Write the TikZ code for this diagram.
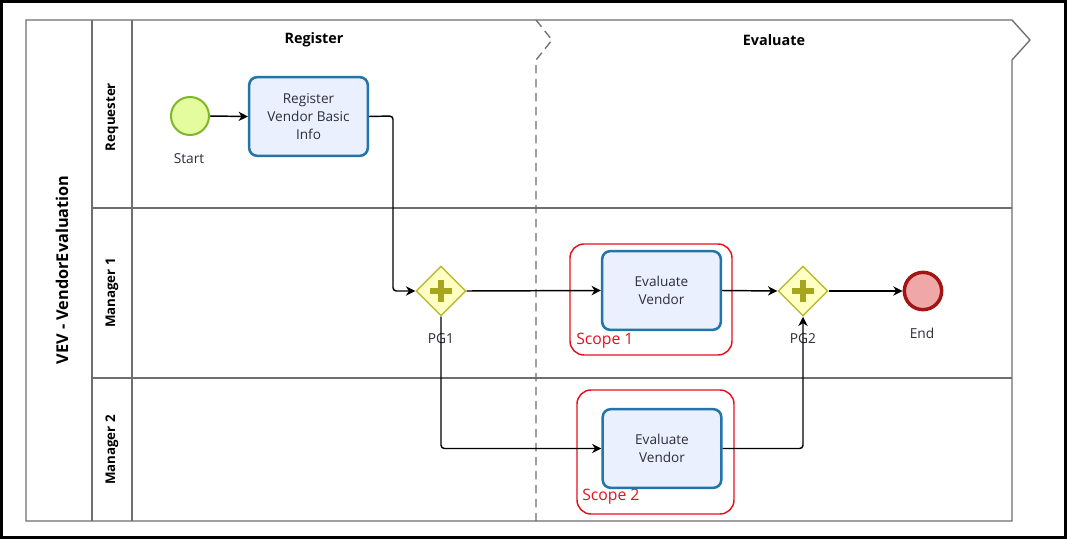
\documentclass[tikz,border=0pt]{standalone}
\usepackage{fontspec}
\setmainfont{Open Sans}
\usetikzlibrary{shapes.geometric,arrows.meta}
\definecolor{laneline}{RGB}{110,110,110}
\definecolor{startfill}{RGB}{228,252,158}
\definecolor{startdraw}{RGB}{125,184,40}
\definecolor{taskfill}{RGB}{234,240,253}
\definecolor{taskdraw}{RGB}{35,116,168}
\definecolor{gwfill}{RGB}{255,255,196}
\definecolor{gwdraw}{RGB}{186,186,48}
\definecolor{gwplus}{RGB}{165,165,32}
\definecolor{endfill}{RGB}{239,167,167}
\definecolor{enddraw}{RGB}{163,20,20}
\definecolor{scopered}{RGB}{232,16,30}
\definecolor{txt}{RGB}{45,45,60}
\tikzset{
  lane/.style={draw=laneline, line width=1pt},
  phasedash/.style={draw=laneline, line width=1pt, dash pattern=on 6.5pt off 4pt},
  task/.style={rectangle, rounded corners=6pt, draw=taskdraw, fill=taskfill, line width=1.9pt,
    minimum width=89pt, minimum height=59pt, align=center, text=txt, font=\fontsize{10.2}{13.5}\selectfont, inner sep=2pt},
  startev/.style={circle, draw=startdraw, fill=startfill, line width=1.5pt, minimum size=28.5pt, inner sep=0pt},
  endev/.style={circle, draw=enddraw, fill=endfill, line width=2.6pt, minimum size=28pt, inner sep=0pt},
  gateway/.style={diamond, draw=gwdraw, fill=gwfill, line width=1.1pt, minimum width=37.5pt, minimum height=37.5pt, inner sep=0pt},
  plusbar/.style={draw=gwplus, line width=4.5pt},
  smalllbl/.style={text=txt, font=\fontsize{10.3}{12}\selectfont, inner sep=0pt},
  scopebox/.style={draw=scopered, line width=1.1pt, rounded corners=10.5pt},
  scopelbl/.style={text=scopered, font=\fontsize{11.8}{13}\selectfont, inner sep=0pt, anchor=west},
  hdr/.style={font=\bfseries\fontsize{10.8}{12}\selectfont, text=black, inner sep=0pt},
  lanelbl/.style={font=\bfseries\fontsize{10}{12}\selectfont, text=black, rotate=90, inner sep=0pt},
  flow/.style={draw=black, line width=1.1pt, rounded corners=2.5pt, -{Stealth[length=7pt,width=7pt,inset=2.2pt]}}
}
\begin{document}
\begin{tikzpicture}[x=0.75pt,y=-0.75pt]
\useasboundingbox (0,0) rectangle (1067,539);
\fill[white] (0,0) rectangle (1067,539);
% outer frame
\draw[black, line width=2pt] (1.5,1.5) rectangle (1065.5,537.5);
% pool
\draw[lane] (1012,60) -- (1030,40) -- (1012,20) -- (26,20) -- (26,521) -- (1012,521) -- cycle;
\draw[lane] (92,20) -- (92,521);
\draw[lane] (132,20) -- (132,521);
\draw[lane] (92,208) -- (1012,208);
\draw[lane] (92,378) -- (1012,378);
% phase divider
\draw[phasedash] (536,20) -- (552,40) -- (536,60) -- (536,521);
% labels of pool, lanes, phases
\node[font=\bfseries\fontsize{12.2}{14}\selectfont, rotate=90, inner sep=0pt] (pool) at (62,270) {VEV - VendorEvaluation};
\node[lanelbl] (l1) at (112,117) {Requester};
\node[lanelbl] (l2) at (112,293) {Manager 1};
\node[lanelbl] (l3) at (112,450) {Manager 2};
\node[hdr] (ph1) at (314,40) {Register};
\node[hdr] (ph2) at (774,40) {Evaluate};
% scope boxes
\draw[scopebox] (570,244) rectangle (732,355);
\node[scopelbl] (s1) at (576,341) {Scope 1};
\draw[scopebox] (577,390) rectangle (734,514);
\node[scopelbl] (s2) at (582,497) {Scope 2};
% elements
\node[startev] (start) at (190,116) {};
\node[smalllbl] (startl) at (189,159) {Start};
\node[task] (rv) at (308.5,116.5) {Register\\Vendor Basic\\Info};
\node[gateway] (pg1) at (441,291) {};
\draw[plusbar] (430,291) -- (452,291);
\draw[plusbar] (441,280) -- (441,302);
\node[smalllbl] (pg1l) at (441,339) {PG1};
\node[task] (ev1) at (661.5,290.5) {Evaluate\\Vendor};
\node[task] (ev2) at (662,448.5) {Evaluate\\Vendor};
\node[gateway] (pg2) at (803,291) {};
\draw[plusbar] (792,291) -- (814,291);
\draw[plusbar] (803,280) -- (803,302);
\node[smalllbl] (pg2l) at (803,339) {PG2};
\node[endev] (end) at (923,291) {};
\node[smalllbl] (endl) at (922,333) {End};
% connectors
\coordinate (c1) at (393,116);
\draw[flow] (start.east) -- (rv.west);
\draw[flow] (rv.east) -- (c1) |- (pg1.west);
\draw[flow] (pg1.east) -- (ev1.west);
\draw[flow] (ev1.east) -- (pg2.west);
\draw[flow] (pg2.east) -- (end.west);
\draw[flow] (pg1.south) |- (ev2.west);
\draw[flow] (ev2.east) -| (pg2.south);
\end{tikzpicture}
\end{document}
